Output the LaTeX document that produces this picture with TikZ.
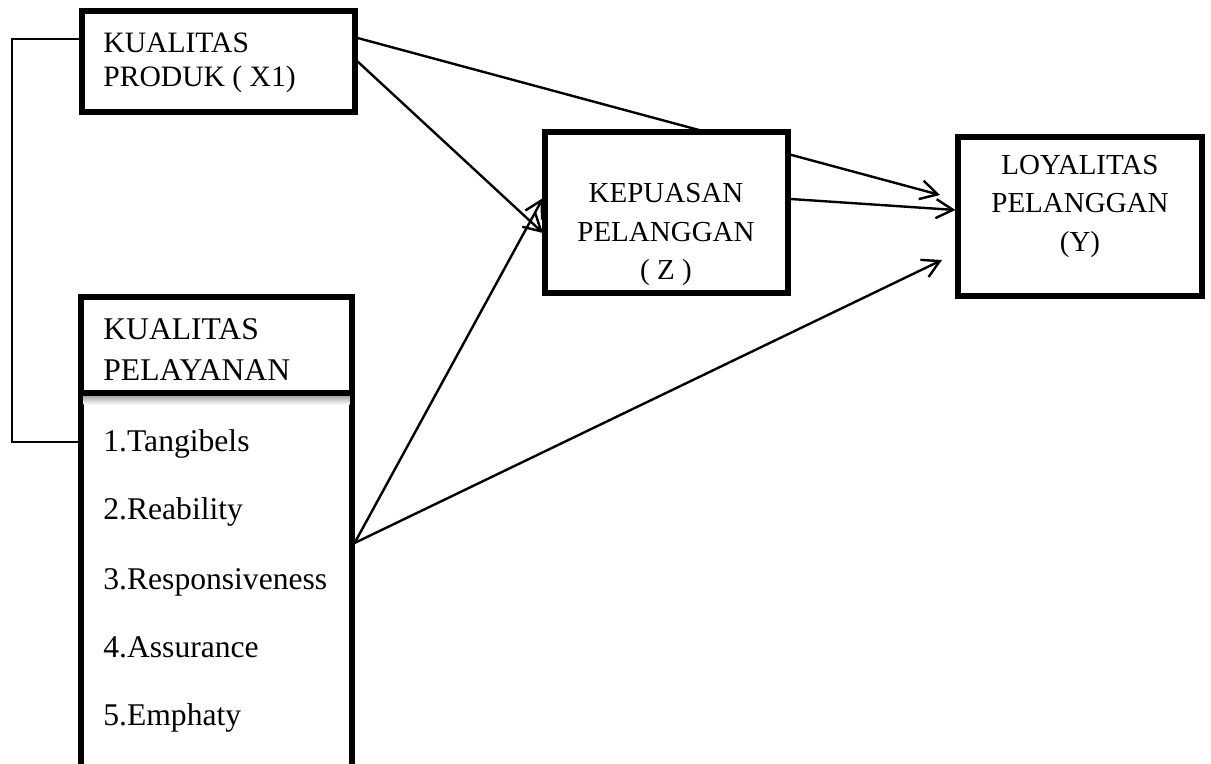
\documentclass[tikz,border=0pt]{standalone}
\usepackage{fontspec}
\setmainfont{Liberation Serif}
\usetikzlibrary{arrows.meta,fit,backgrounds}

\begin{document}
\begin{tikzpicture}[x=0.5pt,y=-0.5pt,
  box/.style={draw, line width=2.6pt, fill=white, inner sep=0pt},
  link/.style={line width=1.2pt, -{Straight Barb[length=8.5pt,width=9.5pt]}},
  bracket/.style={line width=0.8pt},
  lbl/.style={inner sep=0pt, anchor=base west, font=\fontsize{14.8}{17}\selectfont},
  clbl/.style={inner sep=0pt, anchor=base, font=\fontsize{14.5}{17}\selectfont},
  item/.style={inner sep=0pt, anchor=base west, font=\fontsize{15.8}{19}\selectfont},
]
\useasboundingbox (0,0) rectangle (1211,764);

% boxes
\node[box, fit={(82,11) (355,112)}] (x1) {};
\node[box, fit={(545,132) (788,293)}] (z) {};
\node[box, fit={(958,137) (1202,296)}] (y) {};
\node[box, fit={(81,297) (352,800)}] (pel) {};

% header divider of the service-quality box, with its soft shadow
\shade[top color=black!35, bottom color=white] (83.5,395.5) rectangle (349.5,405);
\draw[line width=2.6pt] (pel.west |- 0,393) -- (pel.east |- 0,393);

% labels
\node[lbl] (x1t1) at (103,53) {KUALITAS};
\node[lbl] (x1t2) at (103,87) {PRODUK ( X1)};

\node[clbl] (zt1) at (666,203) {KEPUASAN};
\node[clbl] (zt2) at (666,242) {PELANGGAN};
\node[clbl] (zt3) at (666,280) {( Z )};

\node[clbl] (yt1) at (1080,175) {LOYALITAS};
\node[clbl] (yt2) at (1080,213) {PELANGGAN};
\node[clbl] (yt3) at (1080,252) {(Y)};

\node[item] (pt1) at (103,340) {KUALITAS};
\node[item] (pt2) at (103,381) {PELAYANAN};
\node[item] (i1) at (103,452) {1.Tangibels};
\node[item] (i2) at (103,520) {2.Reability};
\node[item] (i3) at (103,589) {3.Responsiveness};
\node[item] (i4) at (103,657) {4.Assurance};
\node[item] (i5) at (103,725) {5.Emphaty};

% connector end points
\coordinate (x1top) at (x1.east |- 0,38);
\coordinate (pelout) at (pel.east |- 0,543);
\coordinate (zin1) at (543,233);
\coordinate (zin2) at (543,198);
\coordinate (zout) at (z.east |- 0,199);
\coordinate (yin1) at (940,195);
\coordinate (yin2) at (y.west |- 0,210);
\coordinate (yin3) at (942,260);

\begin{scope}[on background layer]
  \draw[link] (x1top) -- (yin1);
  \draw[link] (x1.east) -- (zin1);
  \draw[link] (pelout) -- (zin2);
  \draw[link] (pelout) -- (yin3);
  \draw[link] (zout) -- (yin2);
  \draw[bracket] (x1.west |- 0,39) -- (12,39) |- (pel.west |- 0,442);
\end{scope}
\end{tikzpicture}
\end{document}
